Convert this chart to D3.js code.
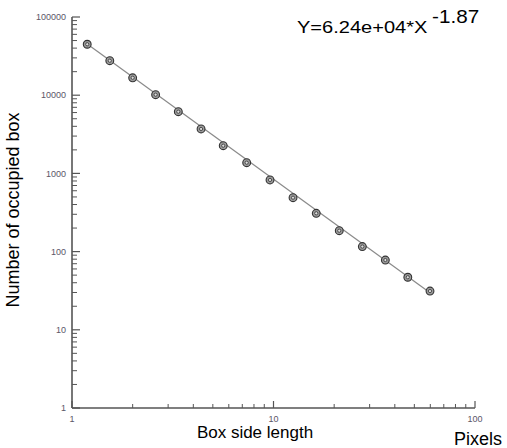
<!DOCTYPE html>
<html>
<head>
<meta charset="utf-8">
<script src="https://cdn.jsdelivr.net/npm/d3@7"></script>
<style>
  body { margin: 0; background: #fff; }
  svg { display: block; font-family: "Liberation Sans", Arial, sans-serif; }
</style>
</head>
<body>
<script>
// box-counting data
var boxSize = [1.19, 1.54, 2.0, 2.6, 3.37, 4.37, 5.63, 7.36, 9.61, 12.5, 16.3, 21.2, 27.6, 35.9, 46.4, 59.8];
var boxCount = [44800, 27600, 16700, 10150, 6150, 3700, 2260, 1370, 824, 489, 309, 185, 116, 78, 47, 31.3];
// power-law fit Y = a * X^b
var fitA = 6.24e4, fitB = -1.87;
var xTicks = [1, 10, 100];
var yTicks = [1, 10, 100, 1000, 10000, 100000];

(function(){

var width = 507, height = 448;
var mLeft = 72, mRight = 475, mTop = 17, mBottom = 408;

var svg = d3.select("body").append("svg")
    .attr("width", width)
    .attr("height", height);

var x = d3.scaleLog().domain([1, 100]).range([mLeft, mRight]);
var y = d3.scaleLog().domain([1, 100000]).range([mBottom, mTop]);

var axisColor = "#555";
var tickText = "#5a5668";

// minor ticks 2..9 inside each decade
function minorVals(lo, hi){
  var v = [];
  for (var d = lo; d < hi; d *= 10){
    for (var k = 2; k <= 9; k++) v.push(d * k);
  }
  return v;
}

// y axis, ticks point inward
var gy = svg.append("g");
gy.append("line")
  .attr("x1", mLeft).attr("x2", mLeft)
  .attr("y1", mTop).attr("y2", mBottom)
  .attr("stroke", axisColor).attr("stroke-width", 1.6);
gy.selectAll(".ymin").data(minorVals(1, 100000)).enter().append("line")
  .attr("x1", mLeft).attr("x2", mLeft + 5)
  .attr("y1", function(d){ return y(d); })
  .attr("y2", function(d){ return y(d); })
  .attr("stroke", axisColor).attr("stroke-width", 1);
gy.selectAll(".ymaj").data(yTicks).enter().append("line")
  .attr("x1", mLeft).attr("x2", mLeft + 8)
  .attr("y1", function(d){ return y(d); })
  .attr("y2", function(d){ return y(d); })
  .attr("stroke", axisColor).attr("stroke-width", 1.2);
gy.selectAll(".ylab").data(yTicks).enter().append("text")
  .attr("x", mLeft - 6)
  .attr("y", function(d){ return y(d); })
  .attr("dy", "0.35em")
  .attr("text-anchor", "end")
  .attr("font-size", 9)
  .attr("fill", tickText)
  .text(function(d){ return d; });

// x axis
var gx = svg.append("g");
gx.append("line")
  .attr("x1", mLeft).attr("x2", mRight)
  .attr("y1", mBottom).attr("y2", mBottom)
  .attr("stroke", axisColor).attr("stroke-width", 1.6);
gx.selectAll(".xmin").data(minorVals(1, 100)).enter().append("line")
  .attr("x1", function(d){ return x(d); })
  .attr("x2", function(d){ return x(d); })
  .attr("y1", mBottom).attr("y2", mBottom - 4)
  .attr("stroke", axisColor).attr("stroke-width", 1);
gx.selectAll(".xmaj").data(xTicks).enter().append("line")
  .attr("x1", function(d){ return x(d); })
  .attr("x2", function(d){ return x(d); })
  .attr("y1", mBottom).attr("y2", mBottom - 7)
  .attr("stroke", axisColor).attr("stroke-width", 1.2);
gx.selectAll(".xlab").data(xTicks).enter().append("text")
  .attr("x", function(d){ return x(d); })
  .attr("y", mBottom + 14)
  .attr("text-anchor", "middle")
  .attr("font-size", 9)
  .attr("fill", tickText)
  .text(function(d){ return d; });

// fitted line
var x0 = boxSize[0], x1 = boxSize[boxSize.length - 1];
svg.append("line")
  .attr("x1", x(x0)).attr("y1", y(fitA * Math.pow(x0, fitB)))
  .attr("x2", x(x1)).attr("y2", y(fitA * Math.pow(x1, fitB)))
  .attr("stroke", "#8a8a8a").attr("stroke-width", 1.2);

// markers
var pts = svg.selectAll(".pt").data(boxSize).enter().append("g")
  .attr("transform", function(d, i){ return "translate(" + x(d) + "," + y(boxCount[i]) + ")"; });
pts.append("circle").attr("r", 3.9)
  .attr("fill", "#9a9a9a").attr("stroke", "#333").attr("stroke-width", 1.1);
pts.append("circle").attr("r", 1.6)
  .attr("fill", "#ddd").attr("stroke", "#333").attr("stroke-width", 0.8);

// labels
svg.append("text")
  .attr("x", 255).attr("y", 438)
  .attr("text-anchor", "middle")
  .attr("font-size", 17)
  .text("Box side length");
svg.append("text")
  .attr("x", 478).attr("y", 445)
  .attr("text-anchor", "middle")
  .attr("font-size", 18)
  .text("Pixels");
svg.append("text")
  .attr("transform", "translate(19,210) rotate(-90)")
  .attr("text-anchor", "middle")
  .attr("font-size", 18)
  .text("Number of occupied box");

var eq = svg.append("text")
  .attr("transform", "translate(297,33) scale(1.18,1)")
  .attr("font-size", 17);
eq.append("tspan").text("Y=6.24e+04*X");
eq.append("tspan").attr("dx", 4).attr("dy", -10).attr("font-size", 17.5).text("-1.87");

})();
</script>
</body>
</html>
